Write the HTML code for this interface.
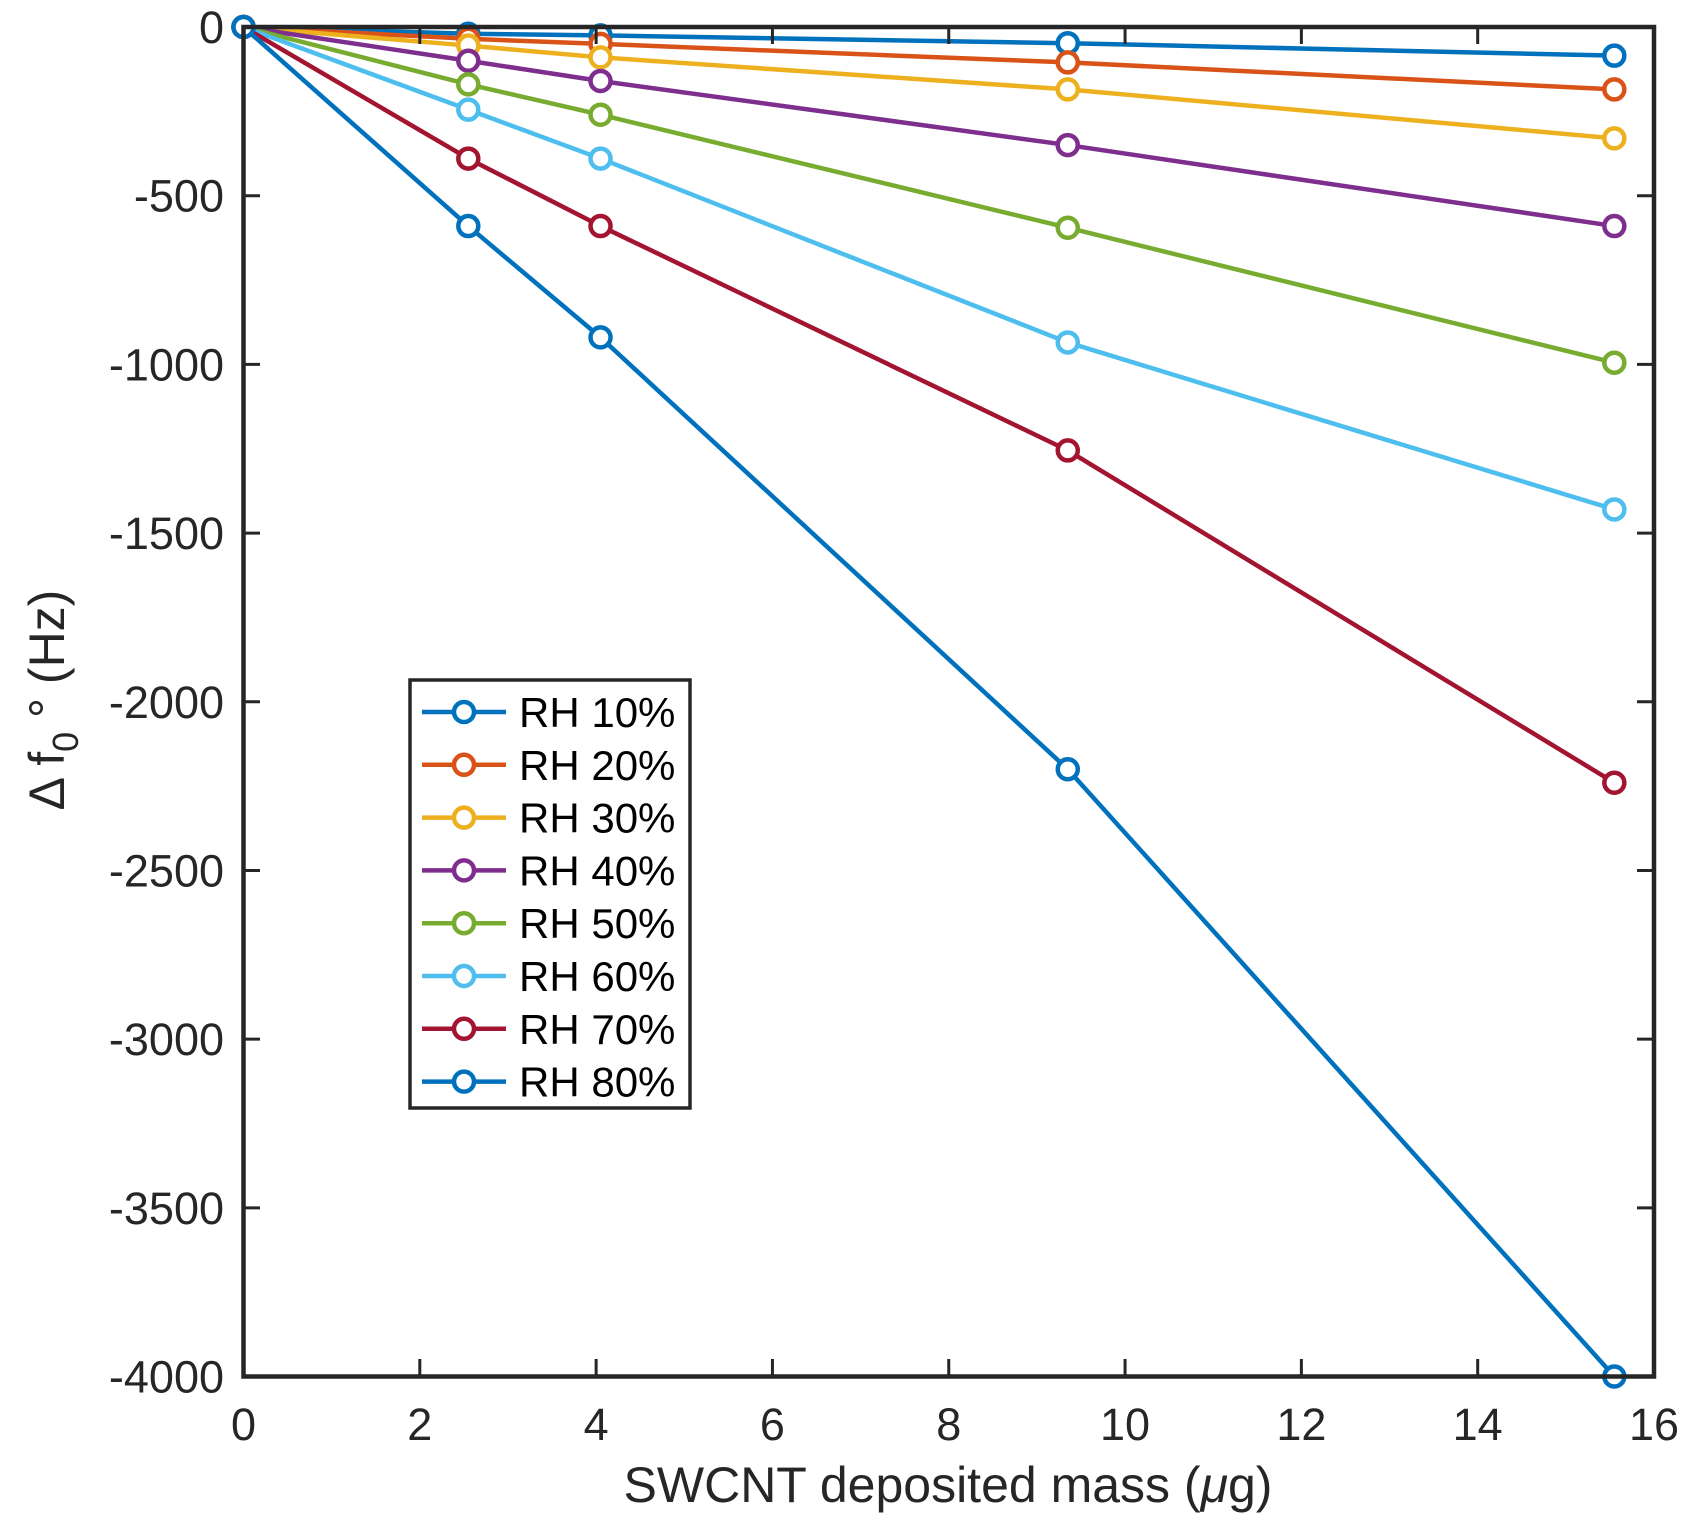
<!DOCTYPE html>
<html><head><meta charset="utf-8"><style>html,body{margin:0;padding:0;background:#fff}svg{display:block}</style></head>
<body>
<svg width="1690" height="1530" viewBox="0 0 1690 1530" xmlns="http://www.w3.org/2000/svg" font-family="Liberation Sans, Arial, sans-serif">
<rect width="1690" height="1530" fill="#fff"/>
<g id="plot" fill="none" stroke-width="4.5" stroke-linejoin="round"></g>
<g stroke="#262626" stroke-width="4.5" fill="none">
<rect x="243.5" y="27" width="1410.5" height="1349.5"/>
</g>
<g id="ticks" stroke="#262626" stroke-width="3"></g>
<g id="labels" fill="#262626" font-size="45"></g>
<text x="948" y="1502" text-anchor="middle" font-size="50" fill="#262626">SWCNT deposited mass (<tspan font-style="italic">μ</tspan>g)</text>
<text transform="translate(64,700) rotate(-90)" text-anchor="middle" font-size="50" fill="#262626">Δ f<tspan font-size="36" dy="14">0</tspan><tspan dy="-14"> ° (Hz)</tspan></text>
<g id="legend"><rect x="410" y="680" width="280" height="428" fill="#fff" stroke="#262626" stroke-width="3.5"/></g>
<script>
var X0=243.5,XS=(1654-243.5)/16,Y0=27,YS=1349.5/4000;
function px(x){return X0+x*XS}function py(y){return Y0-y*YS}
var xs=[0,2.55,4.05,9.35,15.55];
var S=[["#0072BD",[0,-20,-25,-48,-85]],["#D95319",[0,-35,-50,-105,-185]],["#EDB120",[0,-55,-90,-185,-330]],["#7E2F8E",[0,-100,-160,-350,-590]],["#77AC30",[0,-170,-260,-595,-995]],["#4DBEEE",[0,-245,-390,-935,-1430]],["#A2142F",[0,-390,-590,-1255,-2240]],["#0072BD",[0,-590,-920,-2200,-4000]]];
var ns="http://www.w3.org/2000/svg";
function el(t,a,p){var e=document.createElementNS(ns,t);for(var k in a)e.setAttribute(k,a[k]);p.appendChild(e);return e}
var g=document.getElementById("plot");
S.forEach(function(s){var pts=xs.map(function(x,i){return px(x)+","+py(s[1][i])}).join(" ");
el("polyline",{points:pts,stroke:s[0]},g);
xs.forEach(function(x,i){el("circle",{cx:px(x),cy:py(s[1][i]),r:10,stroke:s[0],fill:"#fff"},g)})});
var t=document.getElementById("ticks"),l=document.getElementById("labels");
for(var i=0;i<=16;i+=2){var x=px(i);el("line",{x1:x,y1:1376,x2:x,y2:1359},t);el("line",{x1:x,y1:27,x2:x,y2:44},t);
var e=el("text",{x:x,y:1440,"text-anchor":"middle"},l);e.textContent=i;}
for(var v=0;v>=-4000;v-=500){var y=py(v);el("line",{x1:243.5,y1:y,x2:260,y2:y},t);el("line",{x1:1654,y1:y,x2:1637,y2:y},t);
var e=el("text",{x:224,y:y+16,"text-anchor":"end"},l);e.textContent=v;}
var lg=document.getElementById("legend");
S.forEach(function(s,i){var y=712+i*52.8;el("line",{x1:422,y1:y,x2:506,y2:y,stroke:s[0],"stroke-width":4.5},lg);
el("circle",{cx:464,cy:y,r:10,stroke:s[0],"stroke-width":4.5,fill:"#fff"},lg);
var e=el("text",{x:519,y:y+15,"font-size":42,fill:"#000"},lg);e.textContent="RH "+((i+1)*10)+"%";});
</script>
</svg>
</body></html>
